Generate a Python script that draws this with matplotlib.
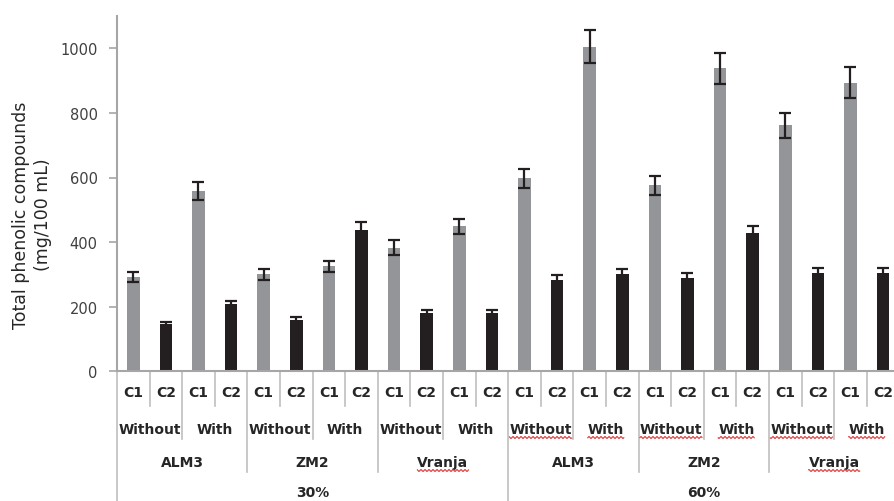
import numpy as np
import matplotlib.pyplot as plt
from matplotlib.transforms import blended_transform_factory

# data
conc = ["30%", "60%"]
strains = ["ALM3", "ZM2", "Vranja"]
treat = ["Without", "With"]
cult = ["C1", "C2"]

valores = [291, 146, 557, 208, 301, 158, 325, 437, 383, 181, 449, 181,
           597, 283, 1005, 301, 576, 289, 938, 428, 761, 304, 894, 304]
errores = [15, 8, 28, 10, 17, 10, 17, 25, 22, 9, 23, 9,
           28, 15, 52, 17, 30, 14, 48, 21, 40, 15, 47, 17]

GRIS = "#939598"
NEGRO = "#231f20"
LINEA = "#a6a6a6"
TEXTO = "#262626"

W, H = 895, 502
fig = plt.figure(figsize=(W / 100, H / 100), dpi=100)

# axes position in pixels: left 117, baseline 372, top 17, 32.6 px per category
x0, yb, yt, paso = 117, 372.3, 17, 32.6
n = len(valores)
ax = fig.add_axes([x0 / W, (H - yb) / H, paso * n / W, (yb - yt) / H])

xs = [i + 0.5 for i in range(n)]
colores = [GRIS if i % 2 == 0 else NEGRO for i in range(n)]
ax.bar(xs, valores, width=0.39, color=colores, zorder=2)
ax.errorbar(xs, valores, yerr=errores, fmt="none", ecolor=NEGRO,
            elinewidth=1.6, capsize=4.5, capthick=1.6, zorder=3)

ax.set_xlim(0, n)
ax.set_ylim(0, 1100)
ax.set_yticks(range(0, 1001, 200))
ax.set_xticks([])
for s in ["top", "right"]:
    ax.spines[s].set_visible(False)
ax.spines["left"].set_color(LINEA)
ax.spines["bottom"].set_color(LINEA)
ax.spines["left"].set_linewidth(1.5)
ax.spines["bottom"].set_linewidth(1.5)
ax.tick_params(axis="y", colors=LINEA, labelcolor="#404040", labelsize=10.5,
               length=6, width=1.2, direction="out", pad=8)

ax.set_ylabel("Total phenolic compounds\n(mg/100 mL)", fontsize=12.5,
              color=TEXTO, linespacing=1.25)
ax.yaxis.set_label_coords((52 - x0) / (paso * n), (yb - 215) / (yb - yt))

# multi level category axis
tr = blended_transform_factory(ax.transData, fig.transFigure)

def fy(py):
    return (H - py) / H

# separators
for i in range(n + 1):
    if i % 12 == 0:
        fondo = H
    elif i % 4 == 0:
        fondo = 473
    elif i % 2 == 0:
        fondo = 440
    else:
        fondo = 407
    ax.plot([i, i], [fy(yb), fy(fondo)], transform=tr, color="#bfbfbf",
            lw=1.2, clip_on=False, zorder=1)

fuente = dict(fontsize=10, fontweight="bold", color=TEXTO, ha="center",
              va="center", transform=tr, family="DejaVu Sans")

subrayar = []
for i in range(n):
    ax.text(i + 0.5, fy(393), cult[i % 2], **fuente)
for j in range(n // 2):
    t = ax.text(2 * j + 1, fy(430), treat[j % 2], **fuente)
    if j >= 6:
        subrayar.append(t)
for k in range(n // 4):
    t = ax.text(4 * k + 2, fy(463), strains[k % 3], **fuente)
    if k % 3 == 2:
        subrayar.append(t)
for m in range(n // 12):
    ax.text(12 * m + 6, fy(493), conc[m], **fuente)

# red spell-check squiggles seen in the source image
fig.canvas.draw()
r = fig.canvas.get_renderer()
for t in subrayar:
    bb = t.get_window_extent(r)
    px = np.arange(bb.x0, bb.x1, 0.5)
    py = bb.y0 - 1.5 + 0.9 * np.sin(px * np.pi / 2)
    fig.add_artist(plt.Line2D(px / W, py / H, color="#e03030", lw=0.8))

fig.savefig("out.png", dpi=100)
